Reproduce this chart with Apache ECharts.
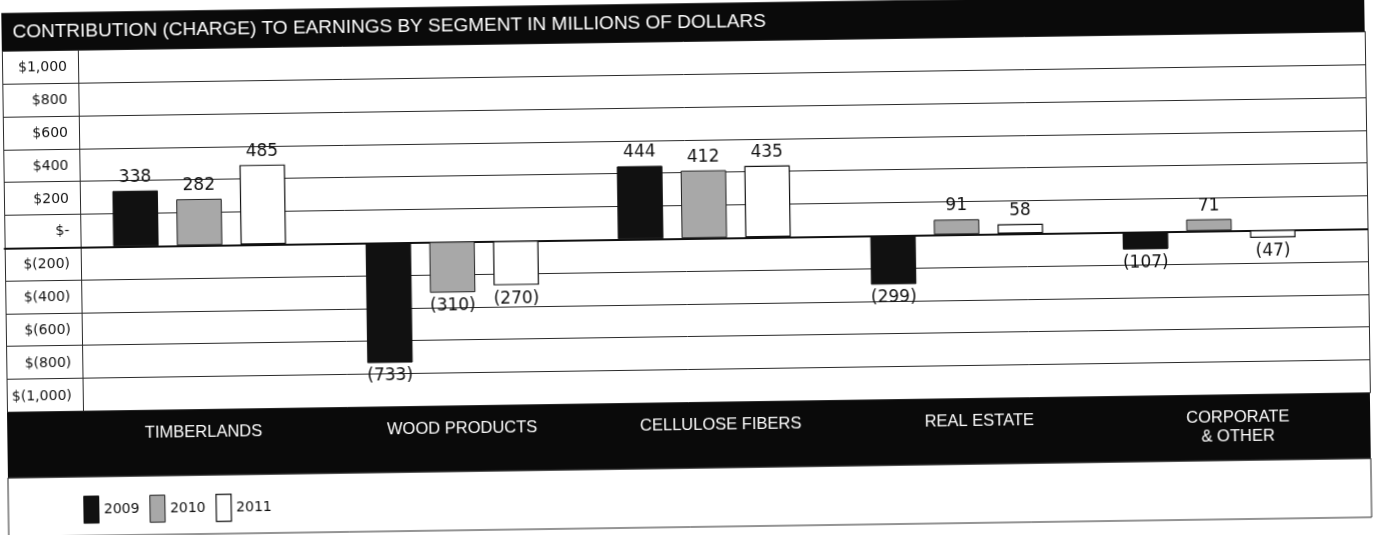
<!DOCTYPE html>
<html>
<head>
<meta charset="utf-8">
<script src="https://cdn.jsdelivr.net/npm/echarts@6/dist/echarts.min.js"></script>
<style>
  html, body { margin: 0; padding: 0; background: #fff; overflow: hidden; }
  #chart { width: 1376px; height: 535px; transform: rotate(-0.82deg); transform-origin: 688px 267.5px; }
</style>
</head>
<body>
<div id="chart"></div>
<script>
// ---- data ----
const categories = ['TIMBERLANDS', 'WOOD PRODUCTS', 'CELLULOSE FIBERS', 'REAL ESTATE', 'CORPORATE\n& OTHER'];
const years = ['2009', '2010', '2011'];
const values2009 = [338, -733, 444, -299, -107];
const values2010 = [282, -310, 412, 91, 71];
const values2011 = [485, -270, 435, 58, -47];
const yTickValues = [-1000, -800, -600, -400, -200, 0, 200, 400, 600, 800, 1000];
const yTickLabels = ['$(1,000)', '$(800)', '$(600)', '$(400)', '$(200)', '$-', '$200', '$400', '$600', '$800', '$1,000'];
const titleText = 'CONTRIBUTION (CHARGE) TO EARNINGS BY SEGMENT IN MILLIONS OF DOLLARS';

// ---- styles ----
const yMin = -1000, yMax = 1200, yStep = 200;
const gTop = 41.3, gBottom = 132.6;
const lineColor = '#2a2a2a';
const seriesStyles = [
  { color: '#111111', borderColor: '#111111', borderWidth: 1 },
  { color: '#a8a8a8', borderColor: '#222222', borderWidth: 1 },
  { color: '#ffffff', borderColor: '#111111', borderWidth: 1.2 }
];
const seriesData = [values2009, values2010, values2011];

function fmtLabel(p) {
  const v = p.value;
  return v < 0 ? '(' + (-v) + ')' : String(v);
}

const chart = echarts.init(document.getElementById('chart'), null, { renderer: 'canvas' });

const valueAxisBase = { type: 'value', min: yMin, max: yMax, interval: yStep };

const option = {
  backgroundColor: '#ffffff',
  animation: false,
  title: {
    text: titleText,
    left: 16,
    top: 12.3,
    padding: 0,
    z: 10,
    textStyle: { color: '#ffffff', fontFamily: 'Liberation Sans', fontSize: 19, fontWeight: 'normal', lineHeight: 20 }
  },
  legend: {
    left: 80,
    top: 487,
    padding: 0,
    icon: 'rect',
    itemWidth: 15,
    itemHeight: 27,
    itemGap: 10,
    selectedMode: false,
    textStyle: { color: '#111', fontFamily: 'DejaVu Sans', fontSize: 14 },
    data: years.map((y, i) => ({ name: y, itemStyle: seriesStyles[i] }))
  },
  graphic: [
    { type: 'rect', z: -1, shape: { x: 5, y: 3.3, width: 1363, height: 38 }, style: { fill: '#0a0a0a' } },
    { type: 'rect', z: -1, shape: { x: 5, y: 402.4, width: 1363, height: 66 }, style: { fill: '#0a0a0a' } },
    { type: 'rect', z: -1, shape: { x: 5, y: 468, width: 1363, height: 59 }, style: { fill: 'none', stroke: lineColor, lineWidth: 1 } }
  ],
  grid: [
    { left: 5, right: 8, top: gTop, bottom: gBottom },
    { left: 81, right: 8, top: gTop, bottom: gBottom },
    { left: 72, right: 11, top: gTop, bottom: gBottom },
    { left: 73.8, right: 40.3, top: gTop, bottom: gBottom }
  ],
  xAxis: [
    { gridIndex: 0, type: 'category', data: categories,
      axisLine: { show: true, onZero: true, lineStyle: { color: '#111', width: 2 } },
      axisTick: { show: false }, axisLabel: { show: false }, splitLine: { show: false } },
    { gridIndex: 1, type: 'category', data: categories, show: false },
    { gridIndex: 2, type: 'category', data: categories,
      axisLine: { show: false }, axisTick: { show: false }, splitLine: { show: false },
      axisLabel: { show: true, interval: 0, color: '#ffffff', fontFamily: 'Liberation Sans', fontSize: 16.5,
        lineHeight: 19, verticalAlign: 'top', margin: 13.4 } },
    { gridIndex: 3, type: 'category', data: categories, show: false }
  ],
  yAxis: [
    Object.assign({}, valueAxisBase, { gridIndex: 0,
      axisLine: { show: true, lineStyle: { color: lineColor, width: 1 } },
      axisTick: { show: false }, axisLabel: { show: false },
      splitLine: { show: true, lineStyle: { color: lineColor, width: 1 } } }),
    Object.assign({}, valueAxisBase, { gridIndex: 0, position: 'right',
      axisLine: { show: true, lineStyle: { color: lineColor, width: 1 } },
      axisTick: { show: false }, axisLabel: { show: false }, splitLine: { show: false } }),
    Object.assign({}, valueAxisBase, { gridIndex: 1,
      axisLine: { show: true, lineStyle: { color: lineColor, width: 1 } },
      axisTick: { show: false }, splitLine: { show: false },
      axisLabel: { show: true, margin: 11, color: '#111', fontFamily: 'DejaVu Sans', fontSize: 14,
        verticalAlign: 'bottom', lineHeight: 31,
        formatter: function (v) { const i = yTickValues.indexOf(v); return i < 0 ? '' : yTickLabels[i]; } } }),
    Object.assign({}, valueAxisBase, { gridIndex: 2, show: false }),
    Object.assign({}, valueAxisBase, { gridIndex: 3, show: false })
  ],
  series: years.map((y, i) => ({
    name: y,
    type: 'bar',
    xAxisIndex: 3,
    yAxisIndex: 4,
    data: seriesData[i].map(v => ({ value: v, label: { position: v < 0 ? 'bottom' : 'top' } })),
    barWidth: 45.5,
    barGap: '40%',
    itemStyle: seriesStyles[i],
    label: {
      show: true,
      distance: 5,
      color: '#111',
      fontFamily: 'DejaVu Sans',
      fontSize: 17,
      formatter: fmtLabel
    }
  }))
};

chart.setOption(option);
</script>
</body>
</html>
